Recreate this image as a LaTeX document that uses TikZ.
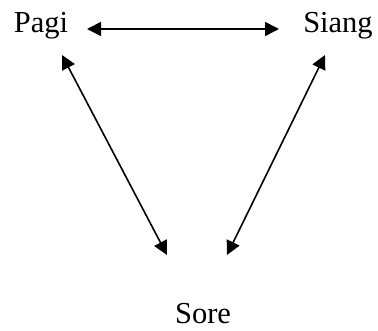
\documentclass[tikz,border=0pt]{standalone}
\usepackage{fontspec}
\setmainfont{Liberation Serif}
\usetikzlibrary{arrows.meta}
\begin{document}
\begin{tikzpicture}[x=1pt,y=-1pt,
  label/.style={anchor=base,inner sep=0pt,font=\fontsize{30.5}{36}\selectfont},
  link/.style={line width=1.6pt,{Triangle[length=14pt,width=14pt]}-{Triangle[length=14pt,width=14pt]}}]
  \useasboundingbox (0,0) rectangle (378,331);
  % time-of-day labels
  \node[label] (pagi)  at (41,33)  {Pagi};
  \node[label] (siang) at (338,33) {Siang};
  \node[label] (sore)  at (203,324) {Sore};
  % arrow end points next to each label
  \coordinate (pagiR)  at (87,29);
  \coordinate (siangL) at (279,29);
  \coordinate (pagiD)  at (62,55);
  \coordinate (siangD) at (325,55);
  \coordinate (soreL)  at (167,255);
  \coordinate (soreR)  at (227,255);
  % two-way links
  \draw[link] (pagiR) -- (siangL);
  \draw[link] (pagiD) -- (soreL);
  \draw[link] (siangD) -- (soreR);
\end{tikzpicture}
\end{document}
